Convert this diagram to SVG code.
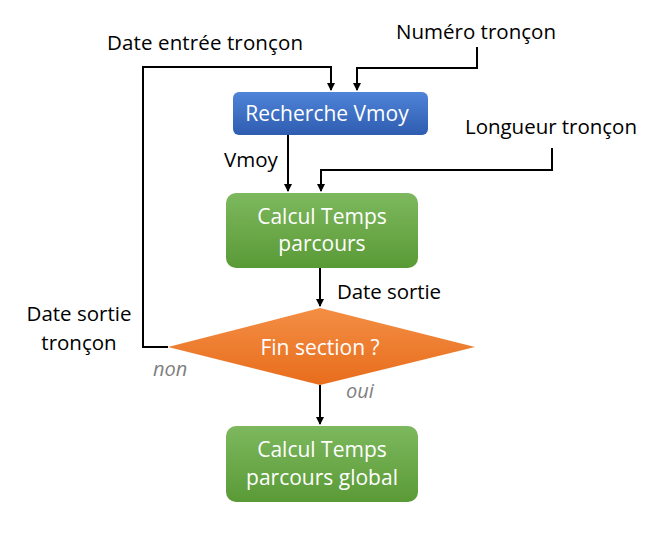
<svg xmlns="http://www.w3.org/2000/svg" width="665" height="558" viewBox="0 0 665 558">
<defs>
<linearGradient id="gBlue" x1="0" y1="0" x2="0" y2="1"><stop offset="0" stop-color="#4F84D8"/><stop offset="1" stop-color="#2E5CB0"/></linearGradient>
<linearGradient id="gGreen" x1="0" y1="0" x2="0" y2="1"><stop offset="0" stop-color="#7DB85E"/><stop offset="1" stop-color="#5A9A36"/></linearGradient>
<linearGradient id="gOrange" x1="0" y1="0" x2="0" y2="1"><stop offset="0" stop-color="#F38E44"/><stop offset="1" stop-color="#E86D1C"/></linearGradient>
<marker id="arr" markerWidth="8" markerHeight="8" refX="7" refY="4" orient="auto" markerUnits="userSpaceOnUse"><path d="M0,0 L8,4 L0,8 Z" fill="#000"/></marker>
</defs>
<style>
.lbl{font-family:"Open Sans","Liberation Sans",sans-serif;font-size:20.5px;fill:#000}
.nt{font-family:"Open Sans","Liberation Sans",sans-serif;font-size:21px;fill:#fff;text-anchor:middle}
.it{font-family:"Open Sans","Liberation Sans",sans-serif;font-size:20px;fill:#7F7F7F;font-style:italic}
.c{fill:none;stroke:#000;stroke-width:2}
</style>
<rect width="665" height="558" fill="#fff"/>
<g id="connectors">
<path class="c" d="M168,347 H143 V67 H331 V90" marker-end="url(#arr)"/>
<path class="c" d="M477,47 V68 H357 V90" marker-end="url(#arr)"/>
<path class="c" d="M288,135 V191" marker-end="url(#arr)"/>
<path class="c" d="M552,148 V170 H321 V191" marker-end="url(#arr)"/>
<path class="c" d="M320,268 V306" marker-end="url(#arr)"/>
<path class="c" d="M320,385 V424" marker-end="url(#arr)"/>
</g>
<g id="labels">
<text class="lbl" x="107" y="50" textLength="196">Date entrée tronçon</text>
<text class="lbl" x="396" y="39" textLength="160">Numéro tronçon</text>
<text class="lbl" x="465" y="134" textLength="172">Longueur tronçon</text>
<text class="lbl" x="224" y="167">Vmoy</text>
<text class="lbl" x="337" y="299" textLength="104">Date sortie</text>
<text class="lbl" x="79" y="321" text-anchor="middle">Date sortie</text>
<text class="lbl" x="79" y="350" text-anchor="middle">tronçon</text>
<text class="it" x="153" y="376">non</text>
<text class="it" x="346" y="398">oui</text>
</g>
<g id="recherche">
<rect x="233" y="92" width="195" height="43" rx="6" fill="url(#gBlue)"/>
<text class="nt" x="327" y="121">Recherche Vmoy</text>
</g>
<g id="calcul">
<rect x="226" y="193" width="192" height="75" rx="10" fill="url(#gGreen)"/>
<text class="nt" x="322" y="224">Calcul Temps</text>
<text class="nt" x="322" y="251">parcours</text>
</g>
<g id="fin">
<polygon points="168,347 320,308 475,347 320,385" fill="url(#gOrange)"/>
<text class="nt" x="320" y="355">Fin section ?</text>
</g>
<g id="global">
<rect x="226" y="426" width="192" height="76" rx="10" fill="url(#gGreen)"/>
<text class="nt" x="322" y="457">Calcul Temps</text>
<text class="nt" x="322" y="485">parcours global</text>
</g>
</svg>
